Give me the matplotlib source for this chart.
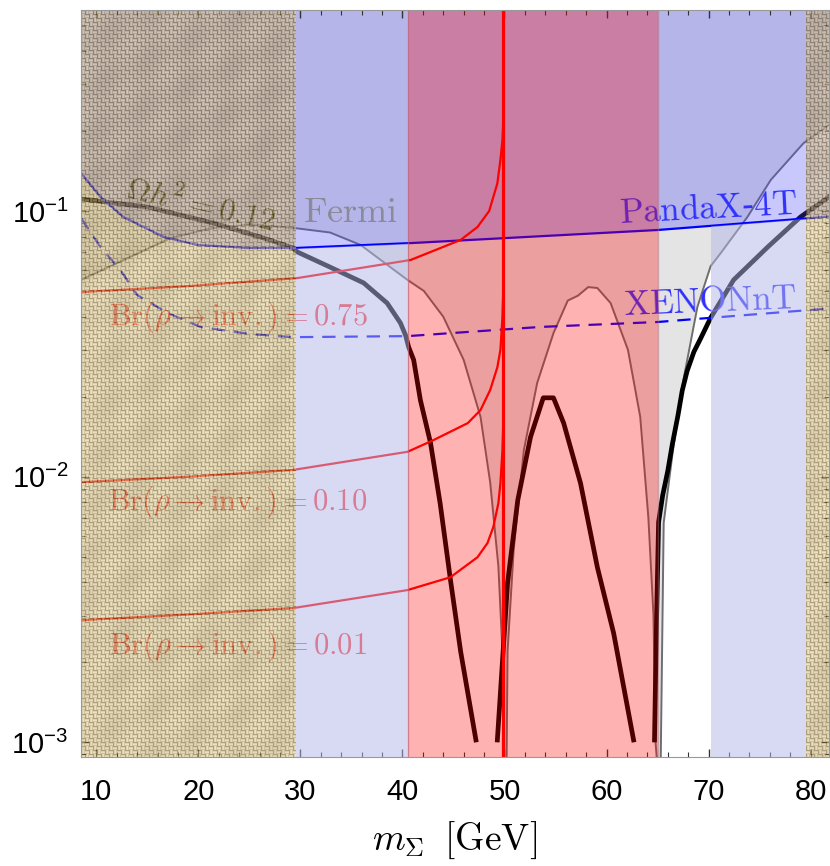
import numpy as np
import matplotlib
matplotlib.use('Agg')
import matplotlib.pyplot as plt
from matplotlib.patches import Rectangle
from matplotlib.ticker import MultipleLocator, LogLocator, NullFormatter

plt.rcParams['font.family'] = ['Liberation Sans', 'DejaVu Sans']
plt.rcParams['mathtext.fontset'] = 'custom'
plt.rcParams['mathtext.rm'] = 'Liberation Sans'
plt.rcParams['mathtext.it'] = 'Liberation Sans:italic'
plt.rcParams['mathtext.bf'] = 'Liberation Sans:bold'

XMIN, XMAX = 8.5, 81.8
YMIN, YMAX = 8.8e-4, 0.571

# relic density line, Omega h^2 = 0.12 (three branches)
relic_left_x = [8.5, 15.0, 21.5, 26.4, 29.3, 29.7, 32.9, 36.2, 38.5, 39.8, 40.3, 40.6, 41.1, 41.76, 42.75, 43.7, 44.7, 45.7, 47.2]
relic_left_y = [0.111, 0.1035, 0.090, 0.0791, 0.0726, 0.0701, 0.0615, 0.0536, 0.0450, 0.0379, 0.0341, 0.0308, 0.0275, 0.0194,
                0.0134, 0.0079, 0.0041, 0.0022, 0.00102]
relic_mid_x = [49.3, 50.3, 51.3, 52.55, 53.8, 54.8, 55.8, 57.45, 59.1, 60.7, 62.65]
relic_mid_y = [0.00102, 0.00397, 0.00815, 0.0141, 0.0198, 0.0198, 0.0159, 0.00945, 0.00456, 0.00257, 0.00102]
relic_right_x = [64.7, 64.9, 65.1, 65.5, 66.0, 66.44, 67.0, 67.42, 67.9, 68.56, 69.2, 70.2, 72.45, 75.8, 79.0, 81.8]
relic_right_y = [0.00102, 0.00288, 0.00674, 0.0085, 0.0105, 0.0132, 0.0170, 0.0211, 0.0250, 0.0295, 0.0330, 0.0396, 0.0550,
                 0.0732, 0.0949, 0.113]

# Fermi bound
fermi_x = [8.5, 17.25, 21.2, 25.1, 29.7, 32.9, 35.9, 38.8, 40.5, 42.1, 44.0, 46.0, 47.65, 48.6, 49.4, 49.8,
           49.9, 50.2, 50.3, 50.9, 51.9, 53.2, 54.8, 56.2, 57.2, 58.2, 59.1, 60.4, 62.1, 63.3, 64.1, 64.6,
           64.8, 65.0, 65.3, 65.6, 66.5, 67.55, 68.9, 70.2, 71.2, 73.8, 76.1, 79.3, 81.8]
fermi_y = [0.055, 0.079, 0.086, 0.089, 0.086, 0.083, 0.0745, 0.0615, 0.055, 0.050, 0.040, 0.0275, 0.0168, 0.0095, 0.0046, 0.0022,
           0.0008, 0.0008, 0.0022, 0.0053, 0.0126, 0.0225, 0.0347, 0.046, 0.048, 0.0517, 0.0513, 0.045, 0.030, 0.0168, 0.0070, 0.0030,
           0.0010, 0.0008, 0.0008, 0.0067, 0.0125, 0.0233, 0.0435, 0.0620, 0.0695, 0.0949, 0.131, 0.180, 0.211]

# Br(rho -> inv.) contours
br75_x = [8.5, 19.2, 29.7, 40.8, 45.7, 47.35, 48.5, 49.3, 49.6, 49.8, 49.9, 49.9]
br75_y = [0.0495, 0.0522, 0.0559, 0.0654, 0.0778, 0.0870, 0.100, 0.127, 0.156, 0.185, 0.226, 0.571]
br10_x = [8.5, 19.2, 29.3, 40.5, 43.0, 46.4, 47.65, 48.6, 49.3, 49.6, 49.8, 49.9, 49.9]
br10_y = [0.00953, 0.0100, 0.0106, 0.0124, 0.0137, 0.0159, 0.0178, 0.0212, 0.0258, 0.0300, 0.0399, 0.0536, 0.571]
br01_x = [8.5, 19.2, 29.3, 40.5, 44.7, 47.35, 48.33, 48.9, 49.4, 49.6, 49.8, 49.9, 49.9]
br01_y = [0.00288, 0.00303, 0.0032, 0.00374, 0.00418, 0.00497, 0.00562, 0.00645, 0.00794, 0.00945, 0.0126, 0.0168, 0.571]
RHO_HALF = 49.9

# direct detection
pandax_x = [8.5, 10.4, 12.65, 16.6, 19.9, 24.8, 29.7, 41.1, 65.0, 81.3, 81.8]
pandax_y = [0.139, 0.113, 0.0949, 0.0798, 0.0745, 0.0726, 0.0726, 0.0758, 0.0848, 0.0949, 0.0953]
xenon_x = [8.5, 10.4, 12.35, 14.0, 17.0, 20.2, 25.1, 29.3, 40.5, 53.5, 65.0, 81.3, 81.8]
xenon_y = [0.0941, 0.0732, 0.060, 0.0483, 0.0413, 0.0366, 0.0344, 0.0335, 0.0338, 0.0366, 0.0382, 0.0428, 0.043]

# shaded bands in m_Sigma
texture_bands = [(8.5, 29.6), (79.4, 81.8)]
light_bands = [(29.6, 40.5), (70.2, 79.4)]
red_band = (40.5, 65.0)

xtick_vals = [10, 20, 30, 40, 50, 60, 70, 80]


def burlap(h, w):
    yy, xx = np.mgrid[0:h, 0:w]
    blk = ((xx // 4) + (yy // 4)) % 2
    across = np.where(blk == 0, yy % 4, xx % 4)
    shade = np.array([0.1, 0.8, 1.0, 0.6])[across]
    shade = shade * (0.88 + 0.12 * np.sin(xx / 9.3 + yy / 13.1) * np.cos(yy / 17.0 - xx / 23.0))
    dark = np.array([105, 82, 30]) / 255
    light = np.array([232, 212, 152]) / 255
    img = np.zeros((h, w, 4))
    img[..., :3] = dark + shade[..., None] * (light - dark)
    colx = XMIN + (xx + 0.5) / w * (XMAX - XMIN)
    mask = np.zeros((h, w), dtype=bool)
    for a, b in texture_bands:
        mask |= (colx >= a) & (colx < b)
    img[..., 3] = np.where(mask, 0.6, 0.0)
    return img


fig = plt.figure(figsize=(8.3, 8.66), dpi=100)
ax = fig.add_axes([81 / 830, 1 - 757 / 866, 748 / 830, 747 / 866])
ax.set_yscale('log')
ax.set_autoscale_on(False)

# excluded by Fermi
ax.fill_between(fermi_x, fermi_y, 1.0, color='#e4e4e4', lw=0, zorder=0.2)

ax.plot(fermi_x, fermi_y, color='#6e6e6e', lw=1.4, zorder=1.0)
for xs, ys in [(relic_left_x, relic_left_y), (relic_mid_x, relic_mid_y), (relic_right_x, relic_right_y)]:
    ax.plot(xs, ys, color='black', lw=3.4, zorder=1.0)

# excluded by PandaX-4T
ax.fill_between(pandax_x, pandax_y, 1.0, color='#4b4bf8', alpha=0.3, lw=0, zorder=1.5)
ax.plot(pandax_x, pandax_y, color='blue', lw=1.6, zorder=1.52)
ax.plot(xenon_x, xenon_y, color='blue', lw=1.6, ls=(0, (6, 4)), zorder=1.52)

for xs, ys in [(br75_x, br75_y), (br10_x, br10_y), (br01_x, br01_y)]:
    ax.plot(xs, ys, color='red', lw=1.6, zorder=1.55)
ax.axvline(RHO_HALF, color='red', lw=2.3, zorder=1.55)

for a, b in light_bands:
    poly = ax.fill_between(pandax_x, 1e-4, pandax_y, color='#b3b7e9', alpha=0.5, lw=0, zorder=1.6)
    poly.set_clip_path(Rectangle((a, YMIN), b - a, YMAX - YMIN, transform=ax.transData))

ax.axvspan(*red_band, color='red', alpha=0.3, lw=0, zorder=1.7)
for xb in red_band:
    ax.axvline(xb, color='#c06070', lw=1.0, alpha=0.5, zorder=1.71)

cm = dict(math_fontfamily='cm')
ax.text(20.2, 0.1044, r'$\Omega h^2 = 0.12$', fontsize=23, color='#1a1a10', rotation=-12.8,
        rotation_mode='anchor', ha='center', va='center', zorder=1.52, **cm)
ax.text(34.9, 0.0909, r'$\mathrm{Fermi}$', fontsize=26, color='#8a8a98', ha='center', va='baseline', zorder=3, **cm)
ax.text(70.0, 0.0941, r'$\mathrm{PandaX}$-$\mathrm{4T}$', fontsize=25, color='#3030ff', rotation=3,
        rotation_mode='anchor', ha='center', va='baseline', zorder=1.52, family='DejaVu Serif', **cm)
ax.text(70.2, 0.0420, r'$\mathrm{XENONnT}$', fontsize=25, color='#3030ff', rotation=2.3,
        rotation_mode='anchor', ha='center', va='baseline', zorder=1.52, **cm)
for val, yb in [('0.75', 0.0372), ('0.10', 0.00748), ('0.01', 0.00216)]:
    ax.text(23.9, yb, r'$\mathrm{Br}(\rho \to \mathrm{inv.}) = ' + val + '$', fontsize=22,
            color='#ff2020', alpha=0.85, ha='center', va='baseline', zorder=1.52, **cm)

ax.imshow(burlap(747, 748), extent=(0, 1, 0, 1), transform=ax.transAxes, aspect='auto',
          interpolation='nearest', zorder=1.8)

ax.set_xlim(XMIN, XMAX)
ax.set_ylim(YMIN, YMAX)
ax.set_xticks(xtick_vals)
ax.xaxis.set_minor_locator(MultipleLocator(2))
ax.yaxis.set_major_locator(LogLocator(base=10, numticks=10))
ax.yaxis.set_minor_locator(LogLocator(base=10, subs=np.arange(2, 10), numticks=20))
ax.yaxis.set_minor_formatter(NullFormatter())
ax.tick_params(which='both', direction='in', top=True, right=True, color='#333333', labelsize=21)
ax.tick_params(which='major', length=6, width=1.0, pad=9)
ax.tick_params(axis='x', which='major', pad=15)
ax.tick_params(which='minor', length=3.5, width=0.8)
for s in ax.spines.values():
    s.set_color('#999999')
    s.set_zorder(2.6)

ax.set_xlabel(r'$m_\Sigma\;\;[\mathrm{GeV}]$', fontsize=27, labelpad=10, **cm)

fig.savefig('out.png', dpi=100)
